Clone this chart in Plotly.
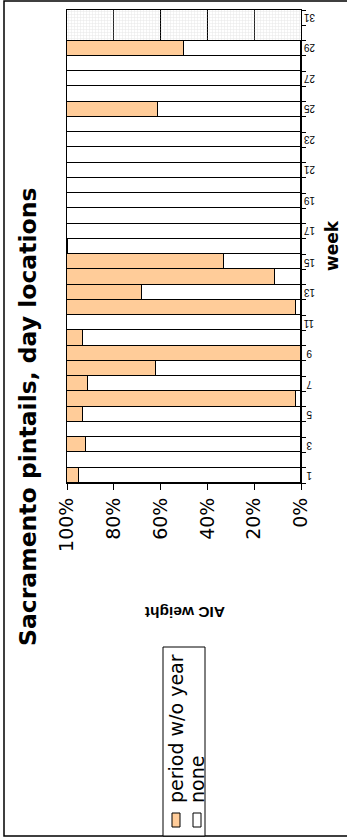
import plotly.graph_objects as go

# Weekly AIC weights (%) for the two candidate models
weeks = list(range(1, 32))
period_wo_year = [5, 0, 8, 0, 7, 98, 9, 38, 100, 7, 0, 98, 32, 89, 67, 0.5,
                  0, 0, 0, 0, 0, 0, 0, 0, 39, 0, 0, 0, 50, None, None]
none_model = [None if p is None else 100 - p for p in period_wo_year]
empty_weeks = [w for w, p in zip(weeks, period_wo_year) if p is None]
week_labels = [w for w in weeks if w % 2 == 1]

pct_ticks = [0, 20, 40, 60, 80, 100]

ORANGE = "#FFCC99"
W, H = 347, 838
ML, MR, MT, MB = 67, 46, 10, 355
PW, PH = W - ML - MR, H - MT - MB


def px_x(px):
    return (px - ML) / PW


def px_y(py):
    return (H - MB - py) / PH


fig = go.Figure()

# patterned plot-area background, visible only where no bar covers it
fig.add_trace(go.Bar(
    y=empty_weeks, x=[100] * len(empty_weeks), orientation="h",
    marker=dict(color="rgba(0,0,0,0)", line=dict(width=0),
                pattern=dict(shape="+", fgcolor="#C4C4C4", size=3,
                             solidity=0.25, fillmode="overlay")),
    hoverinfo="skip", showlegend=False,
))
fig.add_trace(go.Bar(
    y=weeks, x=none_model, orientation="h", name="none",
    marker=dict(color="white", line=dict(color="black", width=1)),
    showlegend=False,
))
fig.add_trace(go.Bar(
    y=weeks, x=period_wo_year, orientation="h", name="period w/o year",
    marker=dict(color=ORANGE, line=dict(color="black", width=1)),
    showlegend=False,
))

fig.update_layout(
    width=W, height=H,
    margin=dict(l=ML, r=MR, t=MT, b=MB, pad=0),
    barmode="stack", bargap=0,
    paper_bgcolor="white", plot_bgcolor="white",
    font=dict(family="DejaVu Sans", color="black"),
)

fig.update_xaxes(
    range=[100, 0], tickvals=pct_ticks, ticktext=[f"{v}%" for v in pct_ticks],
    tickangle=-90, tickfont=dict(family="DejaVu Sans", size=19),
    ticks="outside", ticklen=6, tickcolor="black",
    showline=True, linecolor="black", linewidth=1, mirror=True,
    showgrid=True, gridcolor="black", gridwidth=1, zeroline=False,
)
fig.update_yaxes(
    range=[0.5, 31.5], side="right", showticklabels=False,
    ticks="", showline=True, linecolor="black", linewidth=1, mirror=True,
    minor=dict(tickmode="linear", tick0=0.5, dtick=1, ticks="outside",
               ticklen=4, tickcolor="black"),
    showgrid=False, zeroline=False,
)

shapes = [
    # chart frame
    dict(type="rect", xref="paper", yref="paper", layer="above",
         x0=px_x(4), x1=px_x(360), y0=px_y(836), y1=px_y(1),
         line=dict(color="black", width=1.5)),
    # legend box and swatches
    dict(type="rect", xref="paper", yref="paper",
         x0=px_x(163), x1=px_x(205), y0=px_y(836), y1=px_y(647),
         line=dict(color="black", width=1), fillcolor="white"),
    dict(type="rect", xref="paper", yref="paper",
         x0=px_x(172), x1=px_x(180), y0=px_y(827), y1=px_y(813),
         line=dict(color="black", width=1), fillcolor=ORANGE),
    dict(type="rect", xref="paper", yref="paper",
         x0=px_x(193), x1=px_x(201), y0=px_y(827), y1=px_y(813),
         line=dict(color="black", width=1), fillcolor="white"),
]

annotations = [
    dict(text="<b>Sacramento pintails, day locations</b>", textangle=-90,
         x=px_x(28), y=px_y(417), font=dict(family="DejaVu Sans", size=23.5)),
    dict(text="<b>week</b>", textangle=-90,
         x=px_x(332), y=px_y(246), font=dict(family="DejaVu Sans", size=17)),
    dict(text="<b>AIC weight</b>", textangle=180,
         x=px_x(185), y=px_y(613), font=dict(family="Liberation Sans", size=15.5)),
    dict(text="period w/o year", textangle=-90,
         x=px_x(176), y=px_y(729), font=dict(family="DejaVu Sans", size=19)),
    dict(text="none", textangle=-90,
         x=px_x(197), y=px_y(780), font=dict(family="DejaVu Sans", size=19)),
]
for a in annotations:
    a.update(xref="paper", yref="paper")

# week labels along the right-hand category axis, turned upside down
for w in week_labels:
    annotations.append(dict(
        text=str(w), textangle=180, xref="paper", yref="y",
        x=px_x(309), y=w, font=dict(family="Liberation Sans", size=10),
    ))

for a in annotations:
    a.update(showarrow=False, xanchor="center", yanchor="middle")

fig.update_layout(shapes=shapes, annotations=annotations)

fig.write_html("out.html")
